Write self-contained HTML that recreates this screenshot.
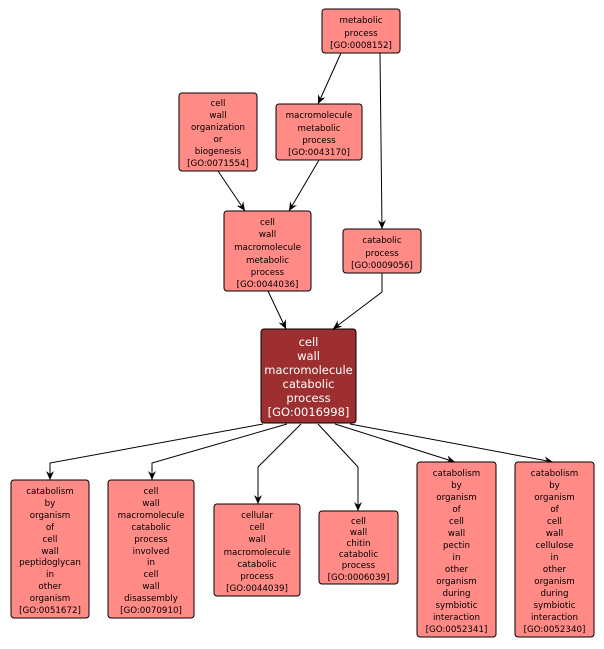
<!DOCTYPE html>
<html><head><meta charset="utf-8"><style>
html,body{margin:0;padding:0;background:#fff;}
svg{display:block;}
text{font-family:"DejaVu Sans","Liberation Sans",sans-serif;font-size:8.7px;fill:#000;text-anchor:middle;}
.c text{fill:#fff;font-size:11.5px;}
rect{fill:#ff8a86;stroke:#000;stroke-width:1;}
.c rect{fill:#9e2f30;}
path{fill:none;stroke:#000;stroke-width:1;}
polygon{fill:#000;}
</style></head><body>
<svg width="604" height="649" viewBox="0 0 604 649" xmlns="http://www.w3.org/2000/svg">
<defs><marker id="a" markerWidth="10" markerHeight="10" refX="9" refY="4" orient="auto" markerUnits="userSpaceOnUse"><polygon points="0,0 9,4 0,8 3,4"/></marker></defs>
<g>
<path d="M341,53 L318,104" marker-end="url(#a)"/>
<path d="M380,53 L382,229" marker-end="url(#a)"/>
<path d="M218,171 L245,211" marker-end="url(#a)"/>
<path d="M319,160 L289,211" marker-end="url(#a)"/>
<path d="M268,291 L286,329" marker-end="url(#a)"/>
<path d="M382,273 L382,292 L333,329" marker-end="url(#a)"/>
<path d="M263,424 L50,463 L50,480" marker-end="url(#a)"/>
<path d="M287,424 L152,463 L152,480" marker-end="url(#a)"/>
<path d="M301,424 L258,467 L258,504" marker-end="url(#a)"/>
<path d="M318,424 L358,467 L358,511" marker-end="url(#a)"/>
<path d="M335,424 L455,462" marker-end="url(#a)"/>
<path d="M350,424 L553,462" marker-end="url(#a)"/>
</g>
<g>
<rect x="322" y="9" width="78" height="44" rx="3"/>
<text x="361" y="23">metabolic</text><text x="361" y="36">process</text><text x="361" y="48">[GO:0008152]</text>

<rect x="179" y="93" width="78" height="78" rx="3"/>
<text x="218" y="106">cell</text><text x="218" y="118">wall</text><text x="218" y="130">organization</text><text x="218" y="142">or</text><text x="218" y="154">biogenesis</text><text x="218" y="166">[GO:0071554]</text>

<rect x="276" y="104" width="86" height="56" rx="3"/>
<text x="319" y="118">macromolecule</text><text x="319" y="131">metabolic</text><text x="319" y="143">process</text><text x="319" y="155">[GO:0043170]</text>

<rect x="224" y="211" width="87" height="80" rx="3"/>
<text x="267.5" y="225">cell</text><text x="267.5" y="237">wall</text><text x="267.5" y="250">macromolecule</text><text x="267.5" y="263">metabolic</text><text x="267.5" y="275">process</text><text x="267.5" y="287">[GO:0044036]</text>

<rect x="343" y="229" width="78" height="44" rx="3"/>
<text x="382" y="243">catabolic</text><text x="382" y="256">process</text><text x="382" y="268">[GO:0009056]</text>
</g>
<g class="c">
<rect x="261" y="329" width="95" height="94" rx="3"/>
<text x="308.5" y="346">cell</text><text x="308.5" y="360">wall</text><text x="308.5" y="374">macromolecule</text><text x="308.5" y="388">catabolic</text><text x="308.5" y="402">process</text><text x="308.5" y="416">[GO:0016998]</text>
</g>
<g>
<rect x="11" y="480" width="78" height="138" rx="3"/>
<text x="50" y="494">catabolism</text><text x="50" y="506">by</text><text x="50" y="518">organism</text><text x="50" y="530">of</text><text x="50" y="542">cell</text><text x="50" y="554">wall</text><text x="50" y="565">peptidoglycan</text><text x="50" y="577">in</text><text x="50" y="589">other</text><text x="50" y="601">organism</text><text x="50" y="613">[GO:0051672]</text>

<rect x="108" y="480" width="86" height="138" rx="3"/>
<text x="151" y="494">cell</text><text x="151" y="506">wall</text><text x="151" y="518">macromolecule</text><text x="151" y="530">catabolic</text><text x="151" y="542">process</text><text x="151" y="554">involved</text><text x="151" y="565">in</text><text x="151" y="577">cell</text><text x="151" y="589">wall</text><text x="151" y="601">disassembly</text><text x="151" y="613">[GO:0070910]</text>

<rect x="214" y="504" width="86" height="92" rx="3"/>
<text x="257" y="518">cellular</text><text x="257" y="530">cell</text><text x="257" y="542">wall</text><text x="257" y="555">macromolecule</text><text x="257" y="567">catabolic</text><text x="257" y="579">process</text><text x="257" y="591">[GO:0044039]</text>

<rect x="319" y="511" width="79" height="73" rx="3"/>
<text x="358.5" y="524">cell</text><text x="358.5" y="535">wall</text><text x="358.5" y="546">chitin</text><text x="358.5" y="557">catabolic</text><text x="358.5" y="568">process</text><text x="358.5" y="580">[GO:0006039]</text>

<rect x="417" y="462" width="79" height="175" rx="3"/>
<text x="456.5" y="476">catabolism</text><text x="456.5" y="488">by</text><text x="456.5" y="500">organism</text><text x="456.5" y="512">of</text><text x="456.5" y="524">cell</text><text x="456.5" y="536">wall</text><text x="456.5" y="548">pectin</text><text x="456.5" y="560">in</text><text x="456.5" y="572">other</text><text x="456.5" y="584">organism</text><text x="456.5" y="596">during</text><text x="456.5" y="608">symbiotic</text><text x="456.5" y="620">interaction</text><text x="456.5" y="632">[GO:0052341]</text>

<rect x="515" y="462" width="79" height="175" rx="3"/>
<text x="554.5" y="476">catabolism</text><text x="554.5" y="488">by</text><text x="554.5" y="500">organism</text><text x="554.5" y="512">of</text><text x="554.5" y="524">cell</text><text x="554.5" y="536">wall</text><text x="554.5" y="548">cellulose</text><text x="554.5" y="560">in</text><text x="554.5" y="572">other</text><text x="554.5" y="584">organism</text><text x="554.5" y="596">during</text><text x="554.5" y="608">symbiotic</text><text x="554.5" y="620">interaction</text><text x="554.5" y="632">[GO:0052340]</text>
</g>
</svg>
</body></html>
